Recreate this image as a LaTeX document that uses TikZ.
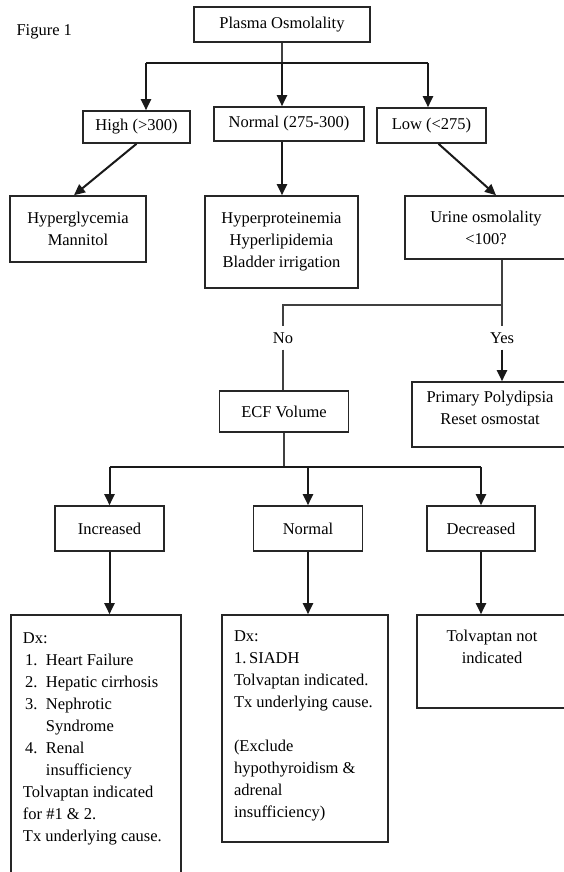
\documentclass[tikz,border=0pt]{standalone}
\usepackage{fontspec}
\setmainfont{Liberation Serif}
\usetikzlibrary{arrows.meta}
\newcommand{\itemno}[1]{\hspace*{2pt}\makebox[21pt][l]{#1}}

\begin{document}
\begin{tikzpicture}[x=1pt, y=-1pt,
		font=\fontsize{16.5}{22}\selectfont,
		blk/.style={draw=black!85, line width=1.6pt, inner sep=0pt, align=center},
		link/.style={draw=black!75, line width=1.6pt},
		bar/.style={draw=black!90, line width=2pt},
		flow/.style={bar, -{Triangle[length=11pt,width=10pt]}},
		lbl/.style={inner sep=0pt, minimum height=23pt}]
		\path[fill=white, use as bounding box] (0,0) rectangle (564,872);
		
		\node[anchor=base west] (fig) at (13,36) {Figure 1};
		\node[blk, minimum width=176pt, minimum height=35pt] (plasma) at (282,24.5) {Plasma Osmolality};
		
		\node[blk, minimum width=107pt, minimum height=32pt] (high) at (136.5,127) {High (>300)};
		\node[blk, minimum width=150pt, minimum height=34pt] (normal) at (289,124) {Normal (275-300)};
		\node[blk, minimum width=109pt, minimum height=35pt] (low) at (431.5,125.5) {Low (<275)};
		
		\node[blk, minimum width=136pt, minimum height=66pt] (hyperg) at (78,229) {Hyperglycemia\\Mannitol};
		\node[blk, minimum width=153pt, minimum height=92pt] (hyperp) at (281.5,242) {Hyperproteinemia\\Hyperlipidemia\\Bladder irrigation};
		\node[blk, minimum width=162pt, minimum height=63pt] (urine) at (486,227.5) {Urine osmolality\\<100?};
		
		\node[lbl] (no) at (283,338) {No};
		\node[lbl] (yes) at (502,338) {Yes};
		\node[blk, minimum width=129pt, minimum height=41pt] (ecf) at (284,411.5) {ECF Volume};
		\node[blk] (poly) at (490,414.5) {\parbox[c][65pt][t]{156pt}{\centering\vspace*{9pt}Primary Polydipsia\\Reset osmostat}};
		
		\node[blk, minimum width=109pt, minimum height=45pt] (inc) at (109.5,528.5) {Increased};
		\node[blk, minimum width=109pt, minimum height=45pt] (norm) at (308,528.5) {Normal};
		\node[blk, minimum width=108pt, minimum height=45pt] (decr) at (481,528.5) {Decreased};
		
		\node[blk] (dx1) at (96,747.5) {\parbox[c][265pt][t]{170pt}{\raggedright\leftskip=12pt\vspace*{18pt}Dx:\\
				\itemno{1.}Heart Failure\\
				\itemno{2.}Hepatic cirrhosis\\
				\itemno{3.}Nephrotic\\
				\hspace*{23pt}Syndrome\\
				\itemno{4.}Renal\\
				\hspace*{23pt}insufficiency\\
				Tolvaptan indicated\\
				for \#1 \& 2.\\
				Tx underlying cause.}};
		\node[blk] (dx2) at (305,728.5) {\parbox[c][227pt][t]{166pt}{\raggedright\leftskip=12pt\vspace*{16pt}Dx:\\
				1.\,SIADH\\
				Tolvaptan indicated.\\
				Tx underlying cause.\\[22pt]
				(Exclude\\
				hypothyroidism \&\\
				adrenal\\
				insufficiency)}};
		\node[blk] (tolv) at (492,661.5) {\parbox[c][93pt][t]{150pt}{\centering\vspace*{15pt}Tolvaptan not\\indicated}};
		
		% first split
		\coordinate (top) at (282,63);
		\coordinate (jhigh) at (146,63);
		\coordinate (jlow) at (428,63);
		\draw[link] (plasma.south) -- (top);
		\draw[bar] (jhigh) -- (jlow);
		\draw[flow] (jhigh) -- (jhigh |- high.north);
		\draw[flow] (top) -- (top |- normal.north);
		\draw[flow] (jlow) -- (jlow |- low.north);
		
		\draw[flow] (high.south) -- ([xshift=-4pt]hyperg.north);
		\draw[flow] (top |- normal.south) -- (top |- hyperp.north);
		\draw[flow] ([xshift=7pt]low.south) -- ([xshift=10pt]urine.north);
		
		% urine osmolality
		\coordinate (jyes) at (502,305);
		\coordinate (jno) at (283,305);
		\draw[link] (jyes |- urine.south) -- (jyes) -- (jno) -- (no);
		\draw[link] (no) -- (no |- ecf.north);
		\draw[link] (jyes) -- (yes);
		\draw[flow] (yes) -- (yes |- poly.north);
		
		% ECF volume
		\coordinate (jecf) at (284,467);
		\draw[link] (ecf.south) -- (jecf);
		\draw[bar] (inc.north |- jecf) -- (decr.north |- jecf);
		\draw[flow] (inc.north |- jecf) -- (inc.north);
		\draw[flow] (norm.north |- jecf) -- (norm.north);
		\draw[flow] (decr.north |- jecf) -- (decr.north);
		
		\draw[flow] (inc.south) -- (inc.south |- dx1.north);
		\draw[flow] (norm.south) -- (norm.south |- dx2.north);
		\draw[flow] (decr.south) -- (decr.south |- tolv.north);
	\end{tikzpicture}
\end{document}
